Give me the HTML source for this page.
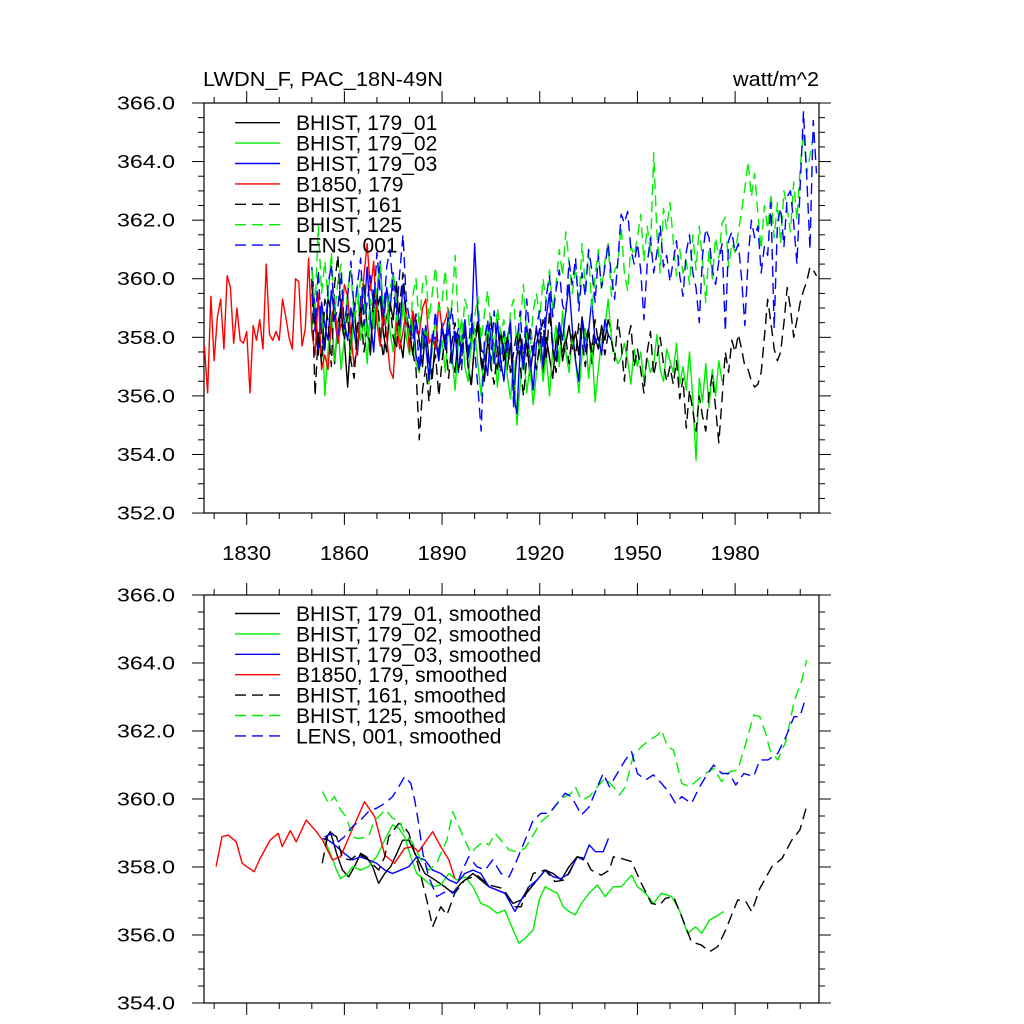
<!DOCTYPE html>
<html><head><meta charset="utf-8"><title>LWDN_F PAC_18N-49N</title>
<style>html,body{margin:0;padding:0;background:#fff}svg{display:block}text{font-family:"Liberation Sans",Arial,sans-serif;fill:#000}</style>
</head><body>
<svg id="chart" width="1024" height="1024" viewBox="0 0 1024 1024" xmlns="http://www.w3.org/2000/svg">
<rect width="1024" height="1024" fill="#fff"/>
<text x="203" y="86" font-size="20" textLength="240" lengthAdjust="spacingAndGlyphs">LWDN_F, PAC_18N-49N</text>
<text x="819" y="86" font-size="20" text-anchor="end" textLength="86" lengthAdjust="spacingAndGlyphs">watt/m^2</text>
<g id="top"></g>
<g id="bot"></g>
</svg>
<script>
// ---------- annual data (top panel) ----------
const histStart = 1850;
const b1850Start = 1817;
const bhist179_01 = [359.8,358.4,357.4,358.9,357.6,359.4,358.7,357.1,358.5,359.0,
357.9,356.3,358.0,359.2,357.5,358.6,359.8,358.3,357.4,359.6,
358.9,359.4,358.1,357.5,359.2,358.6,359.9,358.0,357.3,358.7,
358.2,357.4,358.6,357.9,357.0,358.4,357.2,356.6,358.0,357.5,
358.3,357.6,358.9,357.2,356.8,358.1,357.5,358.5,357.0,356.4,
357.8,358.4,357.1,356.5,357.9,358.7,357.3,356.9,358.2,357.6,
356.9,357.8,356.2,357.4,358.1,357.0,357.9,356.7,357.6,358.3,
357.5,356.8,358.0,357.3,356.6,357.9,358.5,357.2,357.8,358.4,
357.6,358.2,357.4,358.7,357.9,358.3,357.1,358.0,357.6,358.4,
357.9,358.6,358.2];
const bhist179_02 = [358.3,359.1,357.8,358.9,356.0,357.6,358.8,357.2,358.5,356.9,
358.0,359.3,357.4,358.7,359.8,357.9,358.6,357.1,359.0,358.3,
359.5,357.8,358.9,359.6,358.2,357.5,358.8,357.9,359.2,358.0,
357.4,358.5,357.1,356.8,357.9,358.3,356.4,357.7,358.6,357.2,
357.9,356.8,358.4,357.5,356.2,357.8,358.6,357.0,356.5,357.9,
358.3,357.1,356.0,357.6,358.5,356.9,357.8,356.3,357.5,358.2,
356.7,355.9,357.2,355.0,356.4,357.5,356.1,357.0,355.7,356.8,
357.9,356.5,357.4,356.0,357.6,358.4,357.0,358.9,357.5,356.8,
358.0,357.2,356.1,357.4,358.3,356.6,357.8,355.8,356.9,357.9,
358.3,359.3,358.0,357.4,357.1,357.3,357.8,357.2,356.4,357.6,
357.0,357.5,356.5,357.3,356.8,357.1,358.1,356.9,356.5,357.6,
357.2,356.8,357.8,356.4,357.0,356.2,357.5,355.9,353.8,356.6,
355.8,357.1,355.6,356.9,356.0,357.2,356.5];
const bhist179_03 = [360.4,358.9,357.6,359.2,358.4,357.9,359.6,358.7,357.8,359.3,
358.5,357.9,359.0,358.2,357.4,359.4,358.8,360.4,358.6,357.5,
359.3,360.6,358.4,359.7,358.9,360.2,359.1,358.3,359.8,358.7,
357.8,358.9,357.4,356.9,358.3,357.7,356.6,358.1,357.9,357.2,
358.4,357.6,358.9,357.1,358.2,356.8,357.9,358.6,357.3,358.0,
361.2,358.8,357.6,357.4,356.7,358.3,357.1,358.6,357.2,356.5,
357.9,358.6,356.0,355.4,357.7,356.9,358.4,357.3,356.2,357.8,
358.3,357.0,358.7,359.5,357.6,357.2,358.5,357.9,358.9,359.8,
358.3,357.2,356.5,358.6,357.5,358.2,359.3,357.8,358.0,357.4,
358.6,358.1,357.9];
const b1850_179 = [357.7,356.1,359.4,357.2,358.7,359.3,357.6,360.1,359.7,357.8,
359.0,357.9,357.8,358.2,356.1,358.4,357.9,358.6,357.6,360.5,
358.1,357.9,358.2,357.9,359.3,358.7,358.0,357.6,360.0,359.9,
357.7,358.3,360.7,358.2,357.4,359.5,356.9,357.4,356.9,358.6,
359.2,357.8,358.5,359.8,359.4,358.1,357.0,357.7,358.9,360.1,
361.2,359.6,360.6,358.5,357.7,359.0,358.0,356.9,356.6,358.5,
357.6,358.2,358.9,357.5,358.9,358.4,358.1,359.0,359.3,357.8,
358.0,357.6,359.2,358.3,358.6,359.0];
const bhist161 = [360.0,356.0,358.2,357.1,359.3,358.5,357.0,359.8,360.8,358.6,
357.9,358.8,357.2,356.6,358.4,359.0,357.5,358.3,357.7,358.9,
359.6,358.1,357.3,358.7,359.2,358.0,357.6,359.1,360.2,358.8,
358.2,357.5,356.9,354.5,356.2,357.0,355.8,356.9,357.4,356.0,
357.2,358.1,356.6,357.8,358.5,356.9,357.3,358.2,357.0,356.3,
357.9,358.6,357.4,356.7,358.1,357.0,356.4,357.6,358.3,357.1,
358.0,356.8,357.5,358.2,357.0,356.0,357.3,358.4,357.6,356.9,
357.8,358.6,357.2,358.9,357.6,356.8,358.2,357.5,358.0,357.1,
358.1,357.3,358.5,357.9,357.0,358.2,357.5,358.6,357.8,358.3,
357.4,358.1,357.9,357.2,358.6,357.8,356.5,357.9,358.4,357.0,
357.6,356.9,356.1,357.5,358.2,356.7,357.3,358.0,357.1,356.5,
357.0,356.4,357.2,355.9,356.6,354.9,356.2,355.5,354.8,356.0,
355.3,354.8,356.1,356.7,355.6,354.4,355.9,357.5,356.8,357.9,
357.5,358.1,357.6,357.0,356.9,356.5,356.3,356.4,356.8,358.0,
359.3,358.5,357.6,357.2,357.5,358.5,359.7,359.0,358.0,358.6,
359.2,359.6,359.9,360.4,360.3,360.1];
const bhist125 = [360.3,359.0,361.8,359.5,360.6,359.3,360.9,358.8,359.9,360.5,
358.2,359.6,360.3,358.6,359.1,360.0,359.4,358.0,359.3,358.5,
359.8,360.5,359.0,358.4,359.6,360.2,359.1,357.9,359.0,358.7,
358.0,359.4,360.0,358.3,359.8,360.1,358.6,359.5,360.4,358.9,
359.2,360.3,358.4,359.1,360.8,358.5,357.8,359.3,358.9,357.6,
358.7,359.4,357.9,358.8,359.6,358.3,357.5,359.0,358.1,358.6,
357.2,358.9,359.3,357.6,358.5,359.8,358.0,357.4,358.9,359.5,
358.6,360.0,359.2,360.3,358.9,359.8,361.0,360.1,361.6,360.6,
359.5,360.4,359.1,361.2,359.7,360.9,358.9,360.1,361.0,359.6,
360.6,361.2,359.4,360.3,360.5,361.8,360.2,359.6,361.1,360.8,
361.4,362.2,360.6,361.8,360.9,364.3,361.5,360.2,362.4,361.7,
362.6,361.3,360.1,361.0,360.2,360.6,359.8,361.5,360.3,361.8,
360.6,359.2,361.0,360.0,361.4,360.7,361.9,362.1,360.4,361.2,
360.9,361.6,362.3,363.1,364.0,362.8,363.6,362.2,361.0,362.5,
361.7,362.9,361.4,362.6,361.2,363.0,362.4,361.6,363.3,362.0,
363.8,365.0,363.6,364.2,364.9,364.7];
const lens001 = [359.5,358.2,360.3,358.0,357.5,359.8,360.5,358.6,359.0,360.2,
358.3,359.4,360.6,358.9,359.8,360.7,358.4,359.2,360.1,359.0,
360.9,359.5,358.7,360.4,361.0,359.6,358.8,360.2,361.5,359.3,
358.6,357.9,358.8,356.9,357.5,358.4,356.5,357.8,358.9,357.3,
358.5,357.6,358.2,359.0,357.8,358.3,356.9,358.6,357.4,358.8,
357.6,356.3,354.8,357.9,358.6,357.2,358.9,357.5,356.8,358.2,
357.4,358.5,355.6,357.8,358.9,357.1,359.3,358.0,357.3,358.4,
358.9,357.6,359.4,360.1,358.7,359.6,360.3,359.1,358.8,360.6,
359.8,360.7,358.9,360.2,359.4,361.0,360.3,359.2,360.8,359.7,
360.4,361.2,360.1,359.3,360.6,362.2,361.9,362.3,361.0,360.5,
361.2,360.3,358.6,360.5,361.4,360.2,360.9,361.8,360.4,360.8,
359.9,360.6,361.3,360.1,359.4,360.9,361.5,360.2,359.7,358.5,
360.8,361.7,361.4,360.3,359.8,360.6,361.2,358.2,361.3,361.6,
360.9,361.2,360.0,358.4,360.7,362.0,361.4,361.8,360.2,361.1,
360.8,362.6,358.3,361.9,362.4,361.1,362.8,363.0,361.9,360.5,
363.2,365.7,363.5,361.0,365.4,363.6];

// ---------- smoothed data (bottom panel) ----------
const sm01Years = [1853.9,1855.7,1857.6,1859.4,1861.3,1863.1,1865.0,1866.8,1868.7,1870.5,1872.4,1874.2,1876.1,1877.9,1879.8,1882.2,1884.7,1887.8,1890.8,1893.3,1895.8,1899.5,1901.9,1904.4,1906.9,1909.3,1911.8,1914.3,1916.7,1919.2,1921.7,1924.1,1926.6,1929.0,1931.5,1933.4];
const sm01Vals = [358.79,359.04,358.40,357.91,357.71,358.01,358.40,358.30,358.01,357.52,357.81,358.01,358.40,358.79,358.79,358.30,357.81,357.62,357.42,357.23,357.52,357.81,357.62,357.42,357.32,357.23,356.93,357.03,357.32,357.62,357.91,357.81,357.62,358.01,358.30,358.21];
const sm02Years = [1853.9,1855.7,1857.6,1858.8,1860.6,1862.5,1865.0,1867.4,1869.9,1872.4,1874.8,1876.7,1878.5,1880.4,1882.2,1884.7,1887.1,1889.6,1892.1,1894.5,1897.0,1899.5,1901.9,1904.4,1906.9,1909.3,1911.8,1913.6,1915.5,1918.0,1919.8,1921.7,1923.5,1925.4,1927.2,1929.0,1930.9,1932.8,1935.2,1937.7,1940.1,1942.6,1945.1,1948.2,1950.0,1952.5,1954.9,1957.4,1960.5,1962.9,1965.4,1967.9,1969.7,1972.2,1974.0,1976.5];
const sm02Vals = [358.79,358.40,357.91,357.66,357.76,358.01,357.91,358.01,358.30,358.79,359.24,359.14,358.89,358.30,357.81,357.62,357.42,357.47,357.81,357.62,357.71,357.42,356.93,356.83,356.64,356.73,356.15,355.76,355.90,356.15,357.03,357.42,357.32,357.23,356.83,356.69,356.59,356.93,357.23,357.47,357.13,357.42,357.42,357.76,357.42,357.23,356.93,357.23,357.13,356.73,356.05,356.24,356.05,356.44,356.54,356.69];
const sm03Years = [1853.3,1855.1,1857.6,1860.0,1862.5,1865.0,1867.4,1869.9,1872.4,1874.8,1877.3,1879.8,1882.2,1884.7,1887.1,1889.6,1892.1,1894.5,1897.0,1899.5,1901.9,1904.4,1906.9,1909.3,1912.4,1914.3,1916.7,1919.2,1921.7,1924.1,1926.6,1929.0,1931.5,1933.4,1935.2,1937.1,1939.5,1941.1];
const sm03Vals = [358.84,358.79,358.60,358.40,358.21,358.30,358.21,358.11,357.91,357.81,357.91,358.01,358.30,358.21,357.91,357.81,357.62,357.52,357.81,357.91,357.81,357.42,357.32,357.23,356.69,357.03,357.42,357.62,357.91,357.71,357.66,357.81,358.30,358.21,358.65,358.45,358.45,358.84];
const smRedYears = [1820.6,1822.4,1824.3,1826.8,1828.6,1832.3,1834.1,1837.2,1839.7,1840.9,1843.4,1845.2,1848.3,1851.4,1853.3,1856.3,1858.8,1861.9,1866.2,1869.3,1872.4,1875.4,1878.5,1881.0,1882.8,1887.1,1889.6,1892.1,1893.9];
const smRedVals = [358.01,358.89,358.94,358.74,358.11,357.86,358.25,358.79,358.99,358.60,359.07,358.74,359.38,359.04,358.79,358.21,358.30,358.99,359.92,359.48,358.35,358.11,358.55,358.60,358.45,359.04,358.60,358.21,357.66];
const sm161Years = [1853.2,1855.1,1857.6,1859.4,1861.9,1864.3,1867.4,1870.5,1872.4,1873.6,1876.7,1877.9,1879.8,1882.8,1885.3,1887.1,1889.6,1891.5,1893.9,1897.0,1900.7,1904.4,1908.7,1912.4,1914.3,1918.0,1921.7,1924.7,1927.8,1931.5,1934.0,1935.8,1938.9,1941.4,1942.6,1945.1,1948.2,1951.2,1954.3,1956.8,1958.6,1961.1,1963.6,1966.6,1969.7,1972.2,1974.7,1977.1,1980.8,1983.3,1985.1,1987.6,1991.3,1994.4,1997.4,1999.9,2001.8];
const sm161Vals = [358.11,359.04,358.89,358.25,358.21,358.40,358.21,357.91,358.30,358.89,359.28,359.24,358.99,358.01,357.03,356.24,356.83,356.59,357.23,357.62,357.76,357.47,357.37,356.83,356.83,357.81,357.91,357.57,357.62,358.30,358.25,357.91,357.76,357.91,358.30,358.25,358.16,357.52,356.93,356.88,357.08,357.13,356.54,355.80,355.70,355.51,355.66,356.15,357.03,356.98,356.69,357.37,358.01,358.25,358.79,359.09,359.73];
const sm125Years = [1853.3,1855.1,1857.0,1858.8,1860.6,1862.5,1864.3,1867.4,1869.3,1871.1,1872.4,1873.6,1874.8,1876.7,1878.5,1881.0,1883.5,1885.9,1888.4,1889.6,1891.5,1893.3,1895.2,1897.0,1898.9,1900.7,1902.6,1904.4,1906.3,1908.1,1910.6,1913.0,1915.5,1918.0,1920.4,1922.9,1925.3,1927.8,1929.7,1930.9,1932.8,1935.2,1937.7,1940.1,1942.6,1944.5,1946.3,1948.8,1951.2,1953.7,1956.2,1957.4,1959.2,1961.1,1963.6,1966.0,1968.5,1970.9,1973.4,1975.9,1978.3,1980.8,1983.3,1985.7,1987.6,1989.4,1990.7,1993.1,1995.6,1998.1,2000.5,2002.0];
const sm125Vals = [360.22,359.87,360.07,359.68,359.48,358.89,358.84,358.89,359.38,359.53,359.68,359.58,359.43,359.38,358.99,358.70,358.21,357.91,358.11,358.40,358.79,359.63,359.19,358.79,358.40,358.60,358.74,358.65,358.99,358.79,358.50,358.45,358.55,358.94,359.33,359.53,359.87,360.07,360.17,360.36,359.97,360.07,360.36,360.61,360.36,360.12,360.36,361.29,361.54,361.73,361.88,362.03,361.54,361.44,360.46,360.36,360.56,360.75,360.90,360.51,360.80,360.85,361.64,362.47,362.42,361.93,361.44,361.15,361.69,362.86,363.50,364.09];
const smLensYears = [1853.9,1856.3,1858.2,1860.0,1862.5,1865.0,1867.4,1869.9,1872.4,1874.8,1876.7,1878.5,1880.4,1881.6,1882.8,1884.1,1885.9,1888.4,1890.2,1892.1,1893.9,1895.8,1898.2,1900.7,1903.2,1905.6,1908.1,1910.6,1913.0,1915.5,1918.0,1920.4,1922.9,1925.4,1927.8,1929.7,1930.9,1932.8,1935.2,1937.7,1939.5,1941.4,1943.8,1946.3,1948.2,1950.0,1952.5,1954.9,1957.4,1959.9,1961.7,1963.6,1966.6,1969.1,1971.6,1973.4,1975.9,1978.3,1980.2,1982.7,1985.7,1987.6,1990.1,1993.1,1995.6,1998.1,1999.9,2001.8];
const smLensVals = [358.89,358.99,358.74,358.89,359.19,359.38,359.63,359.73,359.87,360.07,360.36,360.66,360.46,359.97,359.28,358.40,357.71,357.13,357.23,357.32,357.23,357.81,358.30,358.01,357.91,358.21,357.81,357.71,358.21,358.79,359.38,359.58,359.58,359.87,360.17,360.07,359.87,359.53,359.77,360.36,360.75,360.36,360.75,361.15,361.39,360.75,360.56,360.71,360.46,360.17,359.87,360.07,359.87,360.36,360.75,361.00,360.75,360.75,360.41,360.75,360.66,361.15,361.15,361.34,361.83,362.42,362.42,363.01];

const seriesNames = ["BHIST, 179_01","BHIST, 179_02","BHIST, 179_03","B1850, 179","BHIST, 161","BHIST, 125","LENS, 001"];
const seriesColors = ["#000000","#00ee00","#0000ff","#ff0000","#000000","#00ee00","#0000ff"];
const seriesDashed = [false,false,false,false,true,true,true];
const yTicksTop = [352,354,356,358,360,362,364,366];
const yTicksBot = [354,356,358,360,362,364,366];
const xMajor = [1830,1860,1890,1920,1950,1980];
const xMinor = [1820,1840,1850,1870,1880,1900,1910,1930,1940,1960,1970,1990,2000];

const NS = "http://www.w3.org/2000/svg";
const X0 = 204, X1 = 819;
function xScale(yr){ return 246.7 + (yr - 1830) * 3.256; }
function yTop(v){ return 103 + (366 - v) * 29.29; }
function yBot(v){ return 595 + (366 - v) * 34.0; }

function mk(parent, tag, attrs){
  const e = document.createElementNS(NS, tag);
  for (const k in attrs) e.setAttribute(k, attrs[k]);
  parent.appendChild(e);
  return e;
}

function drawPanel(g, top, bottom, yFn, yTicks, minV, maxV, showX){
  const frame = mk(g, "rect", {x:X0, y:top, width:X1-X0, height:bottom-top, fill:"none", stroke:"#000", "stroke-width":1.2});
  
  
  for (let v = minV; v <= maxV + 1e-9; v += 0.5){
    const major = Math.abs(v - Math.round(v/2)*2) < 1e-6;
    const len = major ? 12 : 6;
    const y = yFn(v);
    const t1 = mk(g, "line", {x1:X0-len, x2:X0, y1:y, y2:y, stroke:"#000", "stroke-width":1});
    
    
    const t2 = mk(g, "line", {x1:X1, x2:X1+len, y1:y, y2:y, stroke:"#000", "stroke-width":1});
    
    
  }
  yTicks.forEach(v => {
    const t = mk(g, "text", {x:175, y:yFn(v)+6.5, "font-size":18, "text-anchor":"end", textLength:58, lengthAdjust:"spacingAndGlyphs"});
    t.textContent = v.toFixed(1);
    
    
  });
  const allX = xMajor.map(v=>[v,12]).concat(xMinor.map(v=>[v,6]));
  allX.forEach(([yr,len]) => {
    const x = xScale(yr);
    const a = mk(g, "line", {x1:x, x2:x, y1:top-len, y2:top, stroke:"#000", "stroke-width":1});
    
    
    const b = mk(g, "line", {x1:x, x2:x, y1:bottom, y2:bottom+len, stroke:"#000", "stroke-width":1});
    
    
  });
  if (showX){
    xMajor.forEach(yr => {
      const t = mk(g, "text", {x:xScale(yr), y:bottom+47, "font-size":20, "text-anchor":"middle", textLength:49, lengthAdjust:"spacingAndGlyphs"});
      t.textContent = String(yr);
      
      
    });
  }
}

function linePath(years, vals, yFn){
  let d = "";
  for (let i = 0; i < vals.length; i++){
    d += (i ? "L" : "M") + xScale(years[i]).toFixed(2) + "," + yFn(vals[i]).toFixed(2);
  }
  return d;
}
function annualYears(start, n){ const a = []; for (let i=0;i<n;i++) a.push(start+i); return a; }

function drawSeries(g, years, vals, yFn, idx, name){
  const p = mk(g, "path", {d:linePath(years, vals, yFn), fill:"none", stroke:seriesColors[idx], "stroke-width":1.4, "stroke-linejoin":"round"});
  if (seriesDashed[idx]) p.setAttribute("stroke-dasharray", "11,6");
  
  
}

function drawLegend(g, y0, suffix){
  seriesNames.forEach((nm, i) => {
    const y = y0 + i * 20.4;
    const l = mk(g, "line", {x1:235, x2:280, y1:y, y2:y, stroke:seriesColors[i], "stroke-width":1.4});
    if (seriesDashed[i]) l.setAttribute("stroke-dasharray", "11,6");
    
    
    const t = mk(g, "text", {x:296, y:y+7.5, "font-size":21});
    t.textContent = nm + suffix;
    
    
  });
}

const gTop = document.getElementById("top");
const gBot = document.getElementById("bot");
drawPanel(gTop, 103, 513, yTop, yTicksTop, 352, 366, true);
drawPanel(gBot, 595, 1003, yBot, yTicksBot, 354, 366, false);

drawSeries(gTop, annualYears(histStart, bhist179_01.length), bhist179_01, yTop, 0, "line-bhist-179-01");
drawSeries(gTop, annualYears(histStart, bhist179_02.length), bhist179_02, yTop, 1, "line-bhist-179-02");
drawSeries(gTop, annualYears(histStart, bhist179_03.length), bhist179_03, yTop, 2, "line-bhist-179-03");
drawSeries(gTop, annualYears(b1850Start, b1850_179.length), b1850_179, yTop, 3, "line-b1850-179");
drawSeries(gTop, annualYears(histStart, bhist161.length), bhist161, yTop, 4, "line-bhist-161");
drawSeries(gTop, annualYears(histStart, bhist125.length), bhist125, yTop, 5, "line-bhist-125");
drawSeries(gTop, annualYears(histStart, lens001.length), lens001, yTop, 6, "line-lens-001");
drawLegend(gTop, 122.7, "");

drawSeries(gBot, sm01Years, sm01Vals, yBot, 0, "line-bhist-179-01-smoothed");
drawSeries(gBot, sm02Years, sm02Vals, yBot, 1, "line-bhist-179-02-smoothed");
drawSeries(gBot, sm03Years, sm03Vals, yBot, 2, "line-bhist-179-03-smoothed");
drawSeries(gBot, smRedYears, smRedVals, yBot, 3, "line-b1850-179-smoothed");
drawSeries(gBot, sm161Years, sm161Vals, yBot, 4, "line-bhist-161-smoothed");
drawSeries(gBot, sm125Years, sm125Vals, yBot, 5, "line-bhist-125-smoothed");
drawSeries(gBot, smLensYears, smLensVals, yBot, 6, "line-lens-001-smoothed");
drawLegend(gBot, 613.5, ", smoothed");
</script>
</body></html>
